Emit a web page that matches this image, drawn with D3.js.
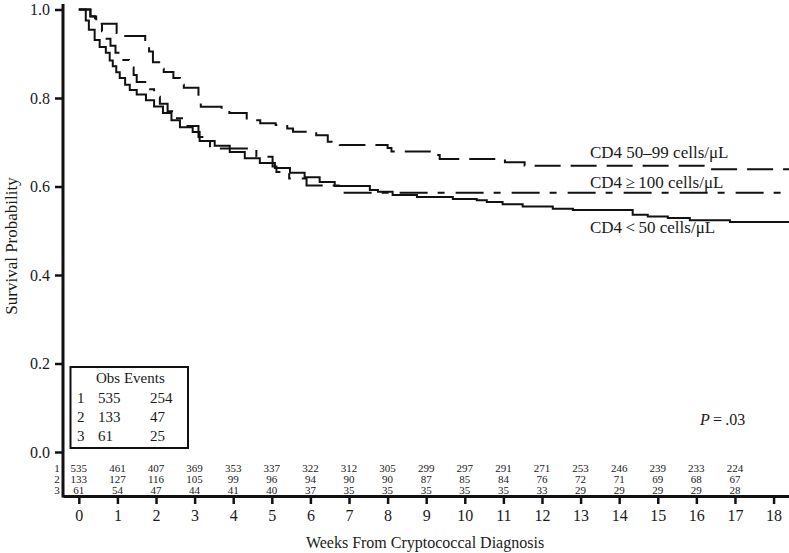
<!DOCTYPE html>
<html>
<head>
<meta charset="utf-8">
<script src="https://cdn.jsdelivr.net/npm/d3@7"></script>
<style>
  body { margin: 0; background: #fff; }
  svg text { font-family: "Liberation Serif", "DejaVu Serif", serif; fill: #1a1a1a; }
</style>
</head>
<body>
<svg id="chart" width="789" height="553"></svg>
<script>
// Kaplan-Meier steps: [week, survival probability]
const cd4Low = [
  [0, 1], [0.18, 0.975], [0.26, 0.954], [0.41, 0.931], [0.54, 0.915], [0.70, 0.902],
  [0.80, 0.885], [0.88, 0.872], [0.97, 0.858], [1.06, 0.845], [1.2, 0.83], [1.32, 0.818],
  [1.5, 0.808], [1.74, 0.795], [1.95, 0.781], [2.18, 0.766], [2.4, 0.75], [2.62, 0.734],
  [2.95, 0.723], [3.13, 0.703], [3.52, 0.692], [3.91, 0.678], [4.30, 0.664], [4.69, 0.653],
  [5.08, 0.642], [5.47, 0.631], [5.85, 0.621], [6.24, 0.610], [6.63, 0.601], [7.54, 0.592],
  [7.75, 0.588], [8.13, 0.581], [8.76, 0.576], [9.69, 0.572], [10.31, 0.569], [10.57, 0.565],
  [10.98, 0.560], [11.5, 0.555], [12.28, 0.550], [12.8, 0.547], [14.35, 0.536], [14.74, 0.532],
  [15.26, 0.529], [15.83, 0.524], [16.87, 0.520]
];
const cd4Mid = [
  [0, 1], [0.3, 0.985], [0.42, 0.968], [0.98, 0.947], [1.2, 0.94], [1.72, 0.924],
  [1.82, 0.905], [1.92, 0.881], [2.12, 0.866], [2.2, 0.859], [2.45, 0.845], [2.62, 0.83],
  [2.72, 0.823], [3.1, 0.802], [3.16, 0.78], [3.7, 0.773], [3.9, 0.766], [4.35, 0.75],
  [4.7, 0.743], [5.1, 0.739], [5.4, 0.731], [5.55, 0.724], [6.15, 0.716], [6.45, 0.701],
  [6.76, 0.694], [8.0, 0.687], [8.1, 0.679], [9.17, 0.671], [9.35, 0.662], [11.04, 0.655],
  [11.55, 0.647], [16.27, 0.639]
];
const cd4High = [
  [0, 1], [0.3, 0.984], [0.45, 0.967], [0.6, 0.951], [0.72, 0.934], [0.82, 0.918],
  [0.95, 0.902], [1.12, 0.886], [1.3, 0.869], [1.42, 0.852], [1.5, 0.836], [1.75, 0.82],
  [1.95, 0.803], [2.1, 0.787], [2.3, 0.770], [2.5, 0.754], [2.7, 0.737], [3.1, 0.712],
  [3.4, 0.686], [4.6, 0.667], [5.02, 0.645], [5.12, 0.633], [5.45, 0.618], [5.9, 0.602],
  [6.85, 0.586]
];
const groupLabels = ["CD4\u2009<\u200950 cells/\u03bcL", "CD4 50\u201399 cells/\u03bcL", "CD4\u2009\u2265\u2009100 cells/\u03bcL"];

// numbers at risk, weeks 0..17
const riskWeeks = d3.range(0, 18);
const atRisk1 = [535, 461, 407, 369, 353, 337, 322, 312, 305, 299, 297, 291, 271, 253, 246, 239, 233, 224];
const atRisk2 = [133, 127, 116, 105, 99, 96, 94, 90, 90, 87, 85, 84, 76, 72, 71, 69, 68, 67];
const atRisk3 = [61, 54, 47, 44, 41, 40, 37, 35, 35, 35, 35, 35, 33, 29, 29, 29, 29, 28];

const obsCounts = [535, 133, 61];
const eventCounts = [254, 47, 25];

const xTicks = d3.range(0, 19);
const yTicks = [0, 0.2, 0.4, 0.6, 0.8, 1.0];
const xMin = -0.41, xMax = 18.4;

const svg = d3.select("#chart");

const x = d3.scaleLinear().domain([xMin, xMax]).range([63, 789]);
const y = d3.scaleLinear().domain([0, 1]).range([452, 9.5]);

// axes
const xAxis = svg.append("g")
  .attr("transform", "translate(0,496)")
  .call(d3.axisBottom(x).tickValues(xTicks).tickSize(8).tickSizeOuter(0).tickPadding(6));
xAxis.select(".domain").attr("stroke", "#111").attr("stroke-width", 3);
xAxis.selectAll(".tick line").attr("stroke", "#111").attr("stroke-width", 2.5);
xAxis.selectAll(".tick text").style("font-size", "16px").attr("fill", "#1a1a1a");

const yAxis = svg.append("g")
  .attr("transform", "translate(63,0)")
  .call(d3.axisLeft(y).tickValues(yTicks).tickFormat(d3.format(".1f")).tickSize(8).tickPadding(5));
yAxis.select(".domain").remove();
yAxis.selectAll(".tick line").attr("stroke", "#111").attr("stroke-width", 2.5);
yAxis.selectAll(".tick text").style("font-size", "16px").attr("fill", "#1a1a1a");

svg.append("line")
  .attr("x1", 63).attr("x2", 63)
  .attr("y1", 4).attr("y2", 497.5)
  .attr("stroke", "#111").attr("stroke-width", 3);

// curves
const line = d3.line()
  .x(d => x(d[0]))
  .y(d => y(d[1]))
  .curve(d3.curveStepAfter);

const series = [
  { data: cd4Low, dash: null },
  { data: cd4Mid, dash: "26,10" },
  { data: cd4High, dash: "28,10,7,11" }
];

svg.selectAll(".km")
  .data(series)
  .enter()
  .append("path")
  .attr("class", "km")
  .attr("d", s => line(s.data.concat([[xMax, s.data[s.data.length - 1][1]]])))
  .attr("fill", "none")
  .attr("stroke", "#111")
  .attr("stroke-width", 2)
  .attr("stroke-dasharray", s => s.dash);

// curve labels
const labelPos = [[590, 233], [590, 158], [590, 188]];
svg.selectAll(".glabel")
  .data(groupLabels)
  .enter()
  .append("text")
  .attr("class", "glabel")
  .attr("x", (d, i) => labelPos[i][0])
  .attr("y", (d, i) => labelPos[i][1])
  .style("font-size", "17px")
  .text(d => d);

// axis titles
svg.append("text")
  .attr("x", 425)
  .attr("y", 548)
  .attr("text-anchor", "middle")
  .style("font-size", "16px")
  .text("Weeks From Cryptococcal Diagnosis");

svg.append("text")
  .attr("transform", "rotate(-90)")
  .attr("x", -246)
  .attr("y", 17)
  .attr("text-anchor", "middle")
  .style("font-size", "17px")
  .text("Survival Probability");

// P value
const pText = svg.append("text")
  .attr("x", 700)
  .attr("y", 425)
  .style("font-size", "16px");
pText.append("tspan").style("font-style", "italic").text("P");
pText.append("tspan").text("\u2009=\u2009.03");

// numbers at risk
const riskRows = [atRisk1, atRisk2, atRisk3];
const riskY = [468, 479, 490];
riskRows.forEach((row, r) => {
  svg.append("text")
    .attr("x", 57)
    .attr("y", riskY[r])
    .attr("dy", "0.35em")
    .attr("text-anchor", "middle")
    .style("font-size", "11px")
    .text(r + 1);
  svg.selectAll(".risk" + r)
    .data(row)
    .enter()
    .append("text")
    .attr("class", "risk" + r)
    .attr("x", (d, i) => x(riskWeeks[i]))
    .attr("y", riskY[r])
    .attr("dy", "0.35em")
    .attr("text-anchor", "middle")
    .style("font-size", "11px")
    .text(d => d);
});

// legend box
const legend = svg.append("g");
legend.append("rect")
  .attr("x", 70.5).attr("y", 367)
  .attr("width", 117.5).attr("height", 81)
  .attr("fill", "#fff")
  .attr("stroke", "#111")
  .attr("stroke-width", 2);
legend.append("text")
  .attr("x", 96).attr("y", 383)
  .style("font-size", "15px")
  .text("Obs Events");
const rowY = [403, 422, 441];
obsCounts.forEach((n, i) => {
  legend.append("text").attr("x", 77).attr("y", rowY[i]).style("font-size", "15px").text(i + 1);
  legend.append("text").attr("x", 98).attr("y", rowY[i]).style("font-size", "15px").text(n);
  legend.append("text").attr("x", 150).attr("y", rowY[i]).style("font-size", "15px").text(eventCounts[i]);
});
</script>
</body>
</html>
